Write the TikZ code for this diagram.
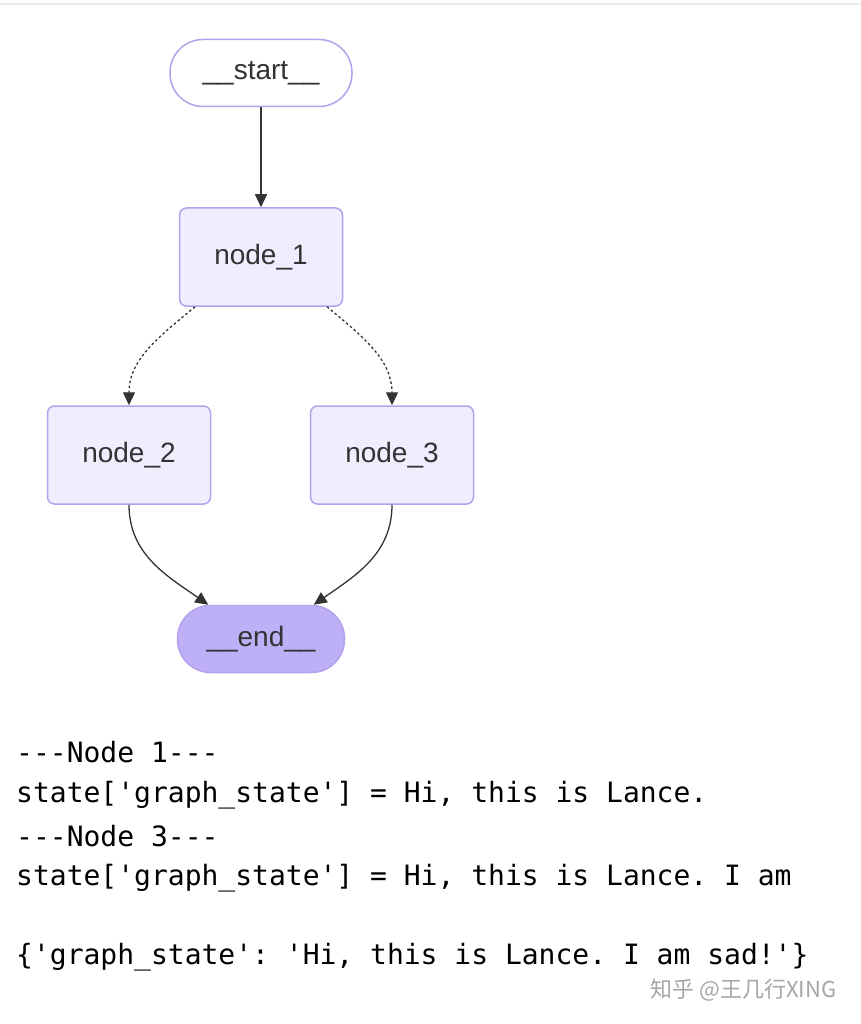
\documentclass[tikz,border=0pt]{standalone}
\usepackage{fontspec}
\setmainfont{Liberation Sans}
\setmonofont{DejaVu Sans Mono}
\newfontfamily\cjk{Noto Sans CJK SC}
\usetikzlibrary{arrows.meta}
\definecolor{nodefill}{HTML}{EFEDFE}
\definecolor{nodeline}{HTML}{B5A1EC}
\definecolor{endfill}{HTML}{BDB0F6}
\definecolor{txt}{HTML}{333333}

\begin{document}
\begin{tikzpicture}[x=1pt,y=1pt,>={Triangle[length=13pt,width=12pt]},
    box/.style={draw=nodeline,fill=nodefill,line width=1.5pt,rounded corners=7pt,text=txt,font=\fontsize{28}{32}\selectfont,minimum width=163pt,minimum height=98pt},
    term/.style={draw=nodeline,line width=1.5pt,rounded corners=33pt,text=txt,font=\fontsize{28}{32}\selectfont,minimum height=67pt},
    edge/.style={->,draw=txt,line width=1.3pt},
    cond/.style={edge,dash pattern=on 2.5pt off 2.5pt},
    code/.style={anchor=west,font=\ttfamily\fontsize{28}{30}\selectfont,text=black,inner sep=0pt}]

    \useasboundingbox (0,0) rectangle (860,-1024);
    \draw[black!8,line width=1.5pt] (0,-4) -- (860,-4);

    \node[term,fill=white,minimum width=182pt] (start) at (261,-73) {\_\_start\_\_};
    \node[box] (n1) at (261,-257) {node\_1};
    \node[box] (n2) at (129,-455) {node\_2};
    \node[box] (n3) at (392,-455) {node\_3};
    \node[term,fill=endfill,minimum width=167pt] (end) at (261,-639) {\_\_end\_\_};

    \draw[edge] (start) -- (n1);
    \draw[cond] (n1.-143) to[out=-140,in=90] (n2.north);
    \draw[cond] (n1.-37) to[out=-40,in=90] (n3.north);
    \draw[edge] (n2.south) to[out=-90,in=145] (end.147);
    \draw[edge] (n3.south) to[out=-90,in=35] (end.33);

    \node[code] (l1) at (16,-752) {---Node 1---};
    \node[code] (l2) at (16,-795) {state['graph\_state'] = Hi, this is Lance.};
    \node[code] (l3) at (16,-836) {---Node 3---};
    \node[code] (l4) at (16,-878) {state['graph\_state'] = Hi, this is Lance. I am};
    \node[code] (l5) at (16,-957) {\{'graph\_state': 'Hi, this is Lance. I am sad!'\}};

    \node[anchor=east,text=black!35,font=\cjk\fontsize{22}{24}\selectfont] (mark) at (840,-990) {知乎 @王几行XING};
\end{tikzpicture}
\end{document}
